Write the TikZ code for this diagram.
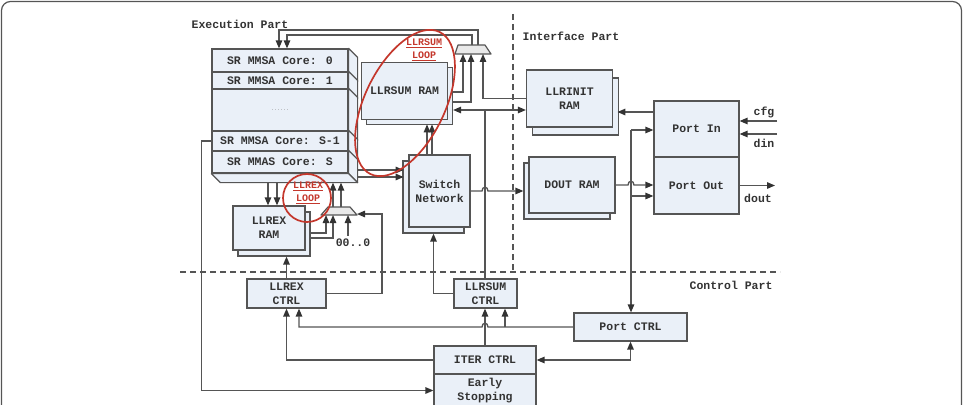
\documentclass[tikz,border=0pt]{standalone}
\usepackage{fontspec}
\setmainfont{Liberation Mono}
\usetikzlibrary{positioning,arrows.meta,calc}
\definecolor{boxfill}{HTML}{EAF0F8}
\definecolor{linegray}{HTML}{555555}
\definecolor{tipgray}{HTML}{333333}
\definecolor{txtgray}{HTML}{333333}
\definecolor{loopred}{HTML}{C4372C}
\definecolor{muxfill}{HTML}{E9E9E9}

\begin{document}
\begin{tikzpicture}[x=1pt, y=-1pt,
  font=\bfseries\fontsize{11.5}{14}\selectfont,
  blk/.style={draw=linegray, fill=boxfill, line width=1.2pt, inner sep=0pt, align=center, text=txtgray},
  corerow/.style={blk, minimum width=136pt, minimum height=#1},
  ram/.style={blk, minimum width=86pt, minimum height=57pt},
  face/.style={draw=linegray, fill=boxfill, line width=1.2pt, line join=round},
  conn/.style={draw=linegray, line width=1.3pt, -{Triangle[length=8pt,width=6.5pt,color=tipgray]}},
  biconn/.style={draw=linegray, line width=1.3pt, {Triangle[length=8pt,width=6.5pt,color=tipgray]}-{Triangle[length=8pt,width=6.5pt,color=tipgray]}},
  wire/.style={draw=linegray, line width=1.3pt},
  mux/.style={draw=linegray, fill=muxfill, line width=1.2pt, line join=round},
  part/.style={text=txtgray},
  looplbl/.style={text=loopred, font=\bfseries\fontsize{10}{13}\selectfont, align=center},
  loopring/.style={draw=loopred, line width=1.7pt},
  divider/.style={draw=linegray, line width=1.1pt, dash pattern=on 6pt off 4pt}
]
\useasboundingbox (0,0) rectangle (963,404);
\draw[draw=linegray, line width=1.2pt, rounded corners=9pt] (1.5,1.5) rectangle (961.5,440);

% the three parts
\draw[divider] (513,14) -- (513,272);
\draw[divider] (180,272) -- (780,272);
\node[part] (execlbl) at (240,24) {Execution Part};
\node[part] (intflbl) at (571,36) {Interface Part};
\node[part] (ctrllbl) at (731,285) {Control Part};

% core stack
\node[corerow=23pt] (core0) at (280,60.5) {SR MMSA Core: 0};
\node[corerow=17pt] (core1) at (280,80.5) {SR MMSA Core: 1};
\node[corerow=42pt, text=gray, font=\fontsize{5}{6}\selectfont] (coredots) at (280,110) {......};
\node[corerow=20pt] (coreS1) at (280,141) {SR MMSA Core: S-1};
\node[corerow=22pt] (coreS) at (280,162) {SR MMAS Core: S};
\foreach \r in {core0,core1,coredots,coreS1,coreS}
  \draw[face] (\r.north east) -- ++(9,9) -- ([shift={(9,9)}]\r.south east) -- (\r.south east) -- cycle;
\draw[face] (coreS.south west) -- ++(9,9) -- ([shift={(9,9)}]coreS.south east) -- (coreS.south east) -- cycle;
\coordinate (stackbot) at ([yshift=-9pt]coreS.south);

% memories
\node[ram] (llrsumbk) at (409.5,96) {};
\node[ram] (llrsumram) at (404.5,91) {LLRSUM RAM};
\node[ram] (llrinitbk) at (575.5,106.5) {};
\node[ram] (llrinitram) at (569.5,98.5) {LLRINIT\\RAM};
\node[ram, minimum height=56pt] (doutbk) at (567,191) {};
\node[ram, minimum height=56pt] (doutram) at (572,185) {DOUT RAM};
\node[blk, minimum width=61pt, minimum height=72pt] (switchbk) at (433.5,197) {};
\node[blk, minimum width=61pt, minimum height=72pt] (switch) at (439.5,191) {Switch\\Network};
\node[blk, minimum width=72pt, minimum height=44pt] (llrexbk) at (274,234) {};
\node[blk, minimum width=72pt, minimum height=44pt] (llrexram) at (269,228) {LLREX\\RAM};

% ports
\node[blk, minimum width=85pt, minimum height=56pt] (portin) at (696.5,129) {Port In};
\node[blk, minimum width=85pt, minimum height=57pt] (portout) at (696.5,185.5) {Port Out};

% control
\node[blk, minimum width=79pt, minimum height=29pt] (llrexctrl) at (286.5,293.5) {LLREX\\CTRL};
\node[blk, minimum width=63pt, minimum height=29pt] (llrsumctrl) at (485.5,293.5) {LLRSUM\\CTRL};
\node[blk, minimum width=113pt, minimum height=28pt] (portctrl) at (630.5,327) {Port CTRL};
\node[blk, minimum width=102pt, minimum height=28pt] (iter) at (485,360) {ITER CTRL};
\node[blk, minimum width=102pt, minimum height=33pt] (early) at (485,390.5) {Early\\Stopping};

% LLRSUM loop
\draw[mux] (455,54) -- (458,45) -- (485,45) -- (491,54) -- cycle;
\coordinate (sumoutA) at (478,45);
\coordinate (sumoutB) at (472,45);
\coordinate (suminA) at (463,54);
\coordinate (suminB) at (471,54);
\coordinate (suminC) at (483,54);
\draw[conn] (sumoutA) -- (478,30) -| ([xshift=-1pt]core0.north);
\draw[conn] (sumoutB) -- (472,35) -| ([xshift=7pt]core0.north);
\draw[conn] ([yshift=4pt]llrsumbk.east) -| (suminA);
\draw[conn] ([yshift=-6pt]llrsumbk.east) -| (suminB);
\draw[conn] (llrinitram.west) -| (suminC);
\draw[biconn] ([yshift=-14pt]llrsumbk.east) -- ([yshift=-11.5pt]llrinitram.west);
\coordinate (sumbus) at (485,110);
\draw[wire] (sumbus |- llrsumctrl.north) -- (sumbus);
\draw[conn] ([xshift=-12.5pt]switch.north) -- ++(0,-30);
\draw[conn] ([xshift=-7.5pt]switch.north) -- ++(0,-30);
\draw[conn] ([xshift=9pt,yshift=-8pt]coreS.east) -- ++(46,0);
\draw[conn] ([xshift=9pt,yshift=-15pt]coreS.east) -- ++(46,0);
\draw[conn] (switch.east) -- (482,191) .. controls (482,186) and (488,186) .. (488,191) -- (doutbk.west);

% interface
\draw[conn] (doutram.east) -- (628,185) .. controls (628,180) and (634,180) .. (634,185) -- (portout.west |- doutram.east);
\coordinate (pbusA) at (631,130);
\coordinate (pbusB) at (631,196);
\draw[conn] (pbusA) -- (pbusA -| portin.west);
\draw[conn] (pbusB) -- (pbusB -| portout.west);
\draw[conn] (pbusA) -- (pbusA |- portctrl.north);
\draw[conn] ([yshift=17pt]portin.west) -- ++(-36,0);
\coordinate (cfgsrc) at (777,121);
\coordinate (dinsrc) at (777,134);
\coordinate (doutdst) at (775,185.5);
\draw[conn] (cfgsrc) -- (cfgsrc -| portin.east);
\draw[conn] (dinsrc) -- (dinsrc -| portin.east);
\draw[conn] (portout.east) -- (doutdst);
\node[part] (cfglbl) at (764,112) {cfg};
\node[part] (dinlbl) at (764,143) {din};
\node[part] (doutlbl) at (758,198) {dout};

% LLREX loop
\draw[conn] ([xshift=-12pt]stackbot) -- ([xshift=-1pt]llrexram.north);
\draw[conn] ([xshift=-3pt]stackbot) -- ([xshift=8pt]llrexram.north);
\draw[mux] (321,215) -- (328,207) -- (350,207) -- (357,215) -- cycle;
\coordinate (exoutA) at (333,207);
\coordinate (exoutB) at (341,207);
\coordinate (exinA) at (326,215);
\coordinate (exinB) at (333,215);
\coordinate (exinC) at (348,215);
\coordinate (exsel) at (357,214);
\node[part] (zeros) at (353,243) {00..0};
\draw[conn] (exoutA) -- (exoutA |- stackbot);
\draw[conn] (exoutB) -- (exoutB |- stackbot);
\draw[conn] ([yshift=1pt]llrexbk.east) -| (exinA);
\draw[conn] ([yshift=-4pt]llrexbk.east) -| (exinB);
\draw[conn] (zeros.north -| exinC) -- (exinC);
\draw[conn] (llrexctrl.east) -| (382,214) -- (exsel);
\draw[conn] (llrexctrl.north) -- (llrexctrl.north |- llrexbk.south);

% control wiring
\draw[conn] (llrsumctrl.west) -| (switchbk.south);
\draw[conn] (coreS1.west) -- ++(-10,0) |- (early.west);
\draw[conn] (iter.west) -| (llrexctrl.south);
\draw[conn] (iter.north) -- (iter.north |- llrsumctrl.south);
\draw[conn] (portctrl.west) -- (488,327) .. controls (488,322) and (482,322) .. (482,327) -| ([xshift=12.5pt]llrexctrl.south);
\coordinate (ctrlbr) at (505,327);
\draw[conn] (ctrlbr) -- (ctrlbr |- llrsumctrl.south);
\draw[biconn] (iter.east) -| (portctrl.south);

% loops
\draw[loopring] (307,198) circle [radius=24];
\node[looplbl] (exlooplbl) at (308,193) {\underline{LLREX}\\\underline{LOOP}};
\draw[loopring, rotate around={64:(405,103)}] (405,103) ellipse [x radius=79, y radius=40];
\node[looplbl] (sumlooplbl) at (424,49.5) {\underline{LLRSUM}\\\underline{LOOP}};
\end{tikzpicture}
\end{document}
